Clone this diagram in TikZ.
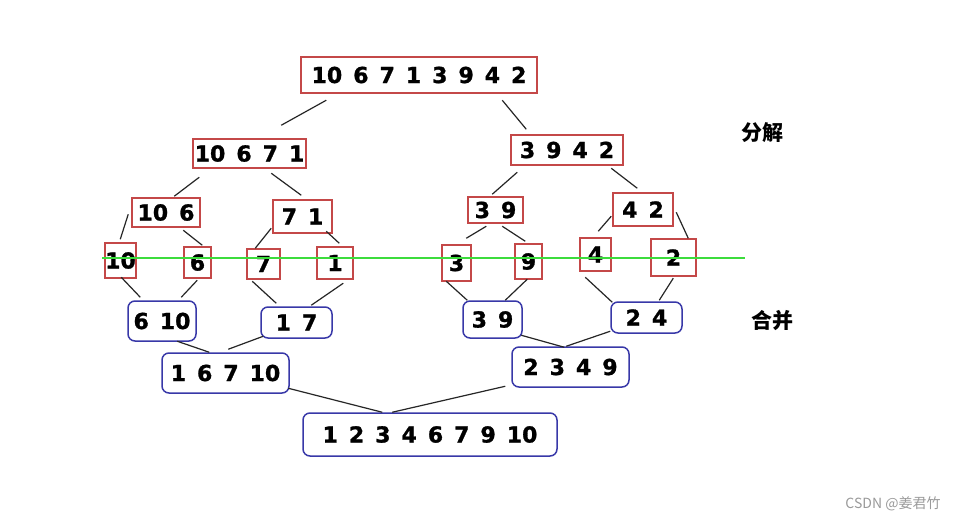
\documentclass[tikz,border=0pt]{standalone}
\usepackage{fontspec}
\setmainfont{DejaVu Sans}
\newfontfamily\numfont{DejaVu Sans}[BoldFeatures={FakeBold=1.2}]
\newfontfamily\cjk{Noto Sans CJK SC}
\definecolor{boxred}{HTML}{C44848}
\definecolor{boxblue}{HTML}{3838A8}
\definecolor{lineg}{HTML}{3CDC3C}
\definecolor{wm}{HTML}{9A9A9A}
\newcommand\conn[4]{\draw[conn] ([shift={#2}]#1.north west) -- ([shift={#4}]#3.north west);}
\tikzset{
  num/.style={inner sep=0pt, text=black,
    font={\numfont\fontsize{22}{24}\selectfont\bfseries\spaceskip=0.5em\relax}},
  redbox/.style={num, draw=boxred, line width=1.5pt, fill=white, rectangle},
  bluebox/.style={num, draw=boxblue, line width=1.5pt, fill=white, rectangle, rounded corners=7pt},
  conn/.style={draw=black!85, line width=1.2pt},
  lbl/.style={inner sep=0pt, font={\cjk\fontsize{21}{24}\selectfont\bfseries}},
}
\begin{document}
\begin{tikzpicture}[x=1pt,y=-1pt]
\useasboundingbox[fill=white] (0,0) rectangle (959,522);
% split (red)
\node[redbox, minimum width=236pt, minimum height=36pt] (top) at (419,75) {10 6 7 1 3 9 4 2};
\node[redbox, minimum width=113pt, minimum height=29pt] (L1) at (249.5,153.5) {10 6 7 1};
\node[redbox, minimum width=112pt, minimum height=30pt] (R1) at (567,150) {3 9 4 2};
\node[redbox, minimum width=68pt, minimum height=29pt] (L2a) at (166,212.5) {10 6};
\node[redbox, minimum width=59pt, minimum height=33pt] (L2b) at (302.5,216.5) {7 1};
\node[redbox, minimum width=55pt, minimum height=26pt] (R2a) at (495.5,210) {3 9};
\node[redbox, minimum width=60pt, minimum height=33pt] (R2b) at (643,209.5) {4 2};
\node[redbox, minimum width=31pt, minimum height=35pt] (l10) at (120.5,260.5) {10};
\node[redbox, minimum width=27pt, minimum height=31pt] (l6) at (197.5,262.5) {6};
\node[redbox, minimum width=33pt, minimum height=30pt] (l7) at (263.5,264) {7};
\node[redbox, minimum width=36pt, minimum height=32pt] (l1) at (335,263) {1};
\node[redbox, minimum width=29pt, minimum height=36pt] (l3) at (456.5,263) {3};
\node[redbox, minimum width=27pt, minimum height=35pt] (l9) at (528.5,261.5) {9};
\node[redbox, minimum width=31pt, minimum height=33pt] (l4) at (595.5,254.5) {4};
\node[redbox, minimum width=45pt, minimum height=37pt] (l2) at (673.5,257.5) {2};
% merge (blue)
\node[bluebox, minimum width=68pt, minimum height=40pt] (b610) at (162,321) {6 10};
\node[bluebox, minimum width=71pt, minimum height=31pt] (b17) at (296.5,322.5) {1 7};
\node[bluebox, minimum width=59pt, minimum height=37pt] (b39) at (492.5,319.5) {3 9};
\node[bluebox, minimum width=71pt, minimum height=31pt] (b24) at (646.5,317.5) {2 4};
\node[bluebox, minimum width=127pt, minimum height=40pt] (b16710) at (225.5,373) {1 6 7 10};
\node[bluebox, minimum width=117pt, minimum height=40pt] (b2349) at (570.5,367) {2 3 4 9};
\node[bluebox, minimum width=254pt, minimum height=43pt] (bot) at (430,434.5) {1 2 3 4 6 7 9 10};
% connectors
\conn{top}{(26,44)}{L1}{(89,-13)}
\conn{top}{(202,44)}{R1}{(16,-5)}
\conn{L1}{(7,39)}{L2a}{(43,-1)}
\conn{L1}{(79,35)}{L2b}{(29,-4)}
\conn{R1}{(7,38)}{R2a}{(25,-2)}
\conn{R1}{(101,34)}{R2b}{(25,-4)}
\conn{L2a}{(-3,17)}{l10}{(16,-3)}
\conn{L2a}{(52,33)}{l6}{(19,-1)}
\conn{L2b}{(-1,29)}{l7}{(9,0)}
\conn{L2b}{(54,32)}{l1}{(23,-3)}
\conn{R2a}{(19,30)}{l3}{(25,-6)}
\conn{R2a}{(35,30)}{l9}{(11,-2)}
\conn{R2b}{(-1,24)}{l4}{(19,-6)}
\conn{R2b}{(64,20)}{l2}{(38,0)}
\conn{l10}{(17,35)}{b610}{(13,-3)}
\conn{l6}{(14,34)}{b610}{(54,-3)}
\conn{l7}{(6,33)}{b17}{(16,-3)}
\conn{l1}{(27,37)}{b17}{(51,-1)}
\conn{l3}{(5,37)}{b39}{(5,0)}
\conn{l9}{(13,36)}{b39}{(43,0)}
\conn{l4}{(6,40)}{b24}{(2,1)}
\conn{l2}{(23,40)}{b24}{(49,-1)}
\conn{b610}{(50,41)}{b16710}{(48,0)}
\conn{b17}{(3,30)}{b16710}{(67,-3)}
\conn{b39}{(59,35)}{b2349}{(53,1)}
\conn{b24}{(0,30)}{b2349}{(55,0)}
\conn{b16710}{(127,36)}{bot}{(80,0)}
\conn{b2349}{(-6,40)}{bot}{(90,0)}
% green line
\coordinate (gl) at (102,258);
\coordinate (gr) at (745,258);
\draw[lineg, line width=1.3pt] (gl) -- (gr);
% labels
\node[lbl] (fenjie) at (762,133) {分解};
\node[lbl] (hebing) at (772,321) {合并};
\node[inner sep=0pt, text=wm, font={\cjk\fontsize{14}{16}\selectfont}] (wmark) at (893,504) {CSDN @姜君竹};
\end{tikzpicture}
\end{document}
